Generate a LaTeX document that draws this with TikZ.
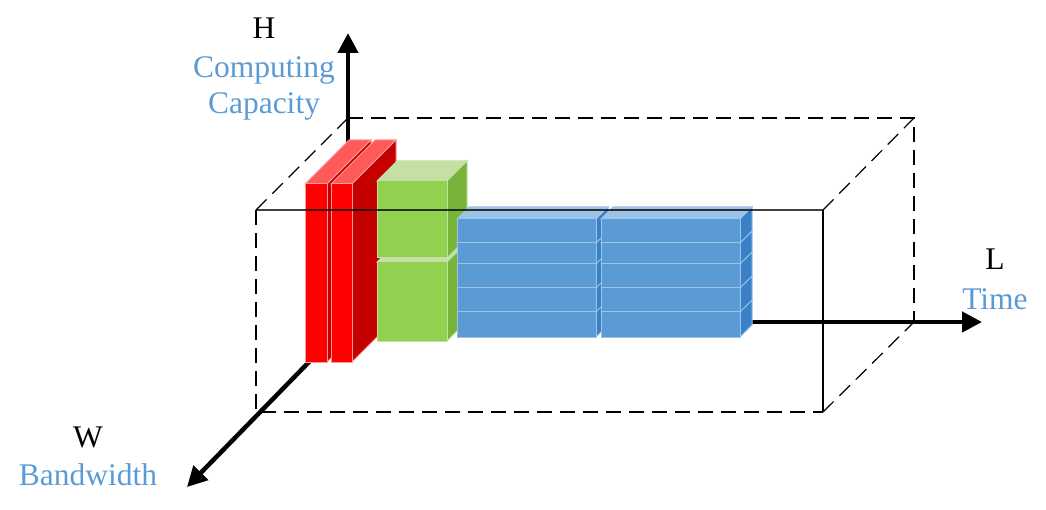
\documentclass[tikz,border=0pt]{standalone}
\usepackage{fontspec}
\setmainfont{Liberation Serif}
\usetikzlibrary{arrows.meta,calc}
\definecolor{lblue}{RGB}{91,155,213}
\definecolor{redF}{RGB}{255,0,0}
\definecolor{redT}{RGB}{255,90,90}
\definecolor{redS}{RGB}{196,0,0}
\definecolor{grnF}{RGB}{146,208,80}
\definecolor{grnT}{RGB}{197,224,164}
\definecolor{grnS}{RGB}{120,180,58}
\definecolor{bluF}{RGB}{91,155,213}
\definecolor{bluT}{RGB}{157,195,230}
\definecolor{bluS}{RGB}{58,128,200}
\newcommand\mycub[9]{%
  \fill[#7,draw=#9,line width=1pt] (#1,#2) -- (#3,#2) -- ++(#5,-#5) -- ($(#1,#2)+(#5,-#5)$) -- cycle;
  \fill[#8,draw=#9,line width=1pt] (#3,#2) -- ++(#5,-#5) -- ($(#3,#4)+(#5,-#5)$) -- (#3,#4) -- cycle;
  \fill[#6,draw=#9,line width=1pt] (#1,#2) rectangle (#3,#4);
}
\begin{document}
\begin{tikzpicture}[x=1pt,y=-1pt,
  boxdash/.style={dash pattern=on 15pt off 8pt, line width=1.2pt},
  boxline/.style={line width=1.2pt},
  axis/.style={line width=4.5pt, -{Triangle[length=20pt,width=20pt]}},
  lab/.style={font=\fontsize{31.5}{37}\selectfont, anchor=base, inner sep=0pt},
  blab/.style={lab, text=lblue}]
\useasboundingbox (0,0) rectangle (1046,510);
% box corners
\coordinate (F1) at (256,210);
\coordinate (F2) at (823,210);
\coordinate (F3) at (823,412);
\coordinate (F4) at (256,412);
\coordinate (B1) at (348,118);
\coordinate (B2) at (914,118);
\coordinate (B3) at (914,322);
\coordinate (O) at (348,322);
\coordinate (Htip) at (348,33);
\coordinate (Ltip) at (982,322);
\coordinate (Wtip) at (187,487);
% dashed box
\draw[boxdash] (F1) -- (F4) -- (F3);
\draw[boxdash] (B1) -- (B2) -- (B3);
\draw[boxdash] (F1) -- (B1);
\draw[boxdash] (F2) -- (B2);
\draw[boxdash] (F3) -- (B3);
% axes
\draw[axis] (O) -- (Htip);
\draw[axis] (O) -- (Ltip);
\draw[axis] (O) -- (Wtip);
% red slabs
\mycub{305}{184}{327}{362}{44}{redF}{redT}{redS}{red!40!white}
\mycub{331}{184}{352}{362}{44}{redF}{redT}{redS}{red!40!white}
% green cubes
\mycub{377}{262}{447}{341}{20}{grnF}{grnT}{grnS}{grnT}
\mycub{377}{181}{447}{258}{20}{grnF}{grnT}{grnS}{grnT}
% blue columns
\foreach \xa/\xb in {457/596,601/740}{
  \mycub{\xa}{312}{\xb}{337}{12}{bluF}{bluT}{bluS}{bluT}
  \mycub{\xa}{288}{\xb}{312}{12}{bluF}{bluT}{bluS}{bluT}
  \mycub{\xa}{264}{\xb}{288}{12}{bluF}{bluT}{bluS}{bluT}
  \mycub{\xa}{243}{\xb}{264}{12}{bluF}{bluT}{bluS}{bluT}
  \mycub{\xa}{219}{\xb}{243}{12}{bluF}{bluT}{bluS}{bluT}
}
% solid front edges
\draw[boxline, draw opacity=0.75] (F1) -- (F2);
\draw[boxline] (F2) -- (F3);
% labels
\node[lab] (hl) at (264,39) {H};
\node[blab] (hc1) at (264,78) {Computing};
\node[blab] (hc2) at (264,114) {Capacity};
\node[lab] (ll) at (995,270) {L};
\node[blab] (lt) at (995,309) {Time};
\node[lab] (wl) at (88,447) {W};
\node[blab] (wb) at (88,485) {Bandwidth};
\end{tikzpicture}
\end{document}
